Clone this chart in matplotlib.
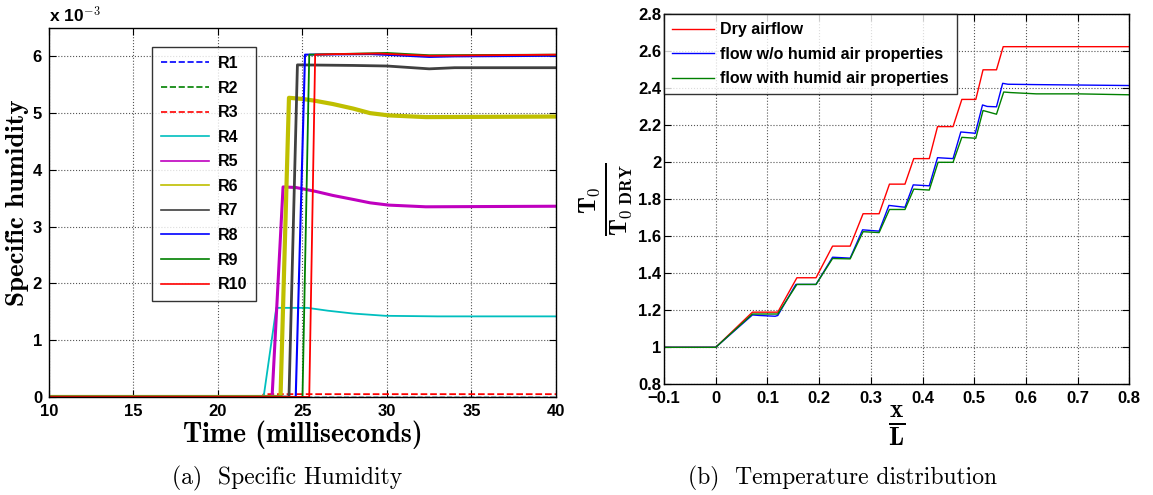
import matplotlib
matplotlib.use("Agg")
import matplotlib.pyplot as plt

plt.rcParams['font.family'] = ['Liberation Sans', 'DejaVu Sans']
plt.rcParams['font.weight'] = 'bold'
plt.rcParams['mathtext.fontset'] = 'cm'

# ---- (a) specific humidity, values in units of 1e-3 ----
t_r1 = [10, 22.6, 40]
q_r1 = [0, 0.0, 0.0]
t_r2 = [10, 22.6, 40]
q_r2 = [0, 0.0, 0.0]
t_r3 = [10, 22.6, 22.7, 40]
q_r3 = [0, 0, 0.05, 0.05]
t_r4 = [10, 22.7, 23.45, 25.3, 26.5, 28.0, 29.9, 33.0, 40]
q_r4 = [0, 0, 1.57, 1.57, 1.52, 1.47, 1.43, 1.42, 1.42]
t_r5 = [10, 23.2, 23.85, 24.6, 25.8, 26.8, 28.0, 29.0, 30.1, 32.3, 40]
q_r5 = [0, 0, 3.70, 3.69, 3.62, 3.55, 3.48, 3.42, 3.38, 3.35, 3.36]
t_r6 = [10, 23.7, 24.2, 25.0, 25.7, 26.8, 28.0, 29.0, 30.1, 32.3, 40]
q_r6 = [0, 0, 5.27, 5.25, 5.22, 5.16, 5.08, 5.00, 4.96, 4.93, 4.94]
t_r7 = [10, 24.2, 24.7, 28.0, 30.0, 32.5, 34.0, 40]
q_r7 = [0, 0, 5.85, 5.84, 5.83, 5.78, 5.80, 5.80]
t_r8 = [10, 24.6, 25.15, 29.0, 30.5, 32.5, 34.0, 40]
q_r8 = [0, 0, 6.03, 6.04, 6.02, 5.99, 6.00, 6.01]
t_r9 = [10, 25.0, 25.4, 27.0, 30.0, 32.5, 40]
q_r9 = [0, 0, 6.03, 6.04, 6.06, 6.02, 6.03]
t_r10 = [10, 25.4, 25.75, 27.0, 29.5, 32.5, 40]
q_r10 = [0, 0, 6.03, 6.04, 6.05, 6.01, 6.03]

# ---- (b) temperature distribution ----
x_dry = [-0.1, 0.0, 0.071, 0.12, 0.157, 0.194, 0.226, 0.26, 0.285, 0.316, 0.336,
         0.366, 0.383, 0.413, 0.429, 0.459, 0.476, 0.503, 0.517, 0.543, 0.556, 0.8]
t_dry = [1.0, 1.0, 1.19, 1.19, 1.376, 1.376, 1.547, 1.547, 1.722, 1.722, 1.882,
         1.882, 2.02, 2.02, 2.193, 2.193, 2.34, 2.34, 2.50, 2.50, 2.625, 2.625]
x_nohum = [-0.1, 0.0, 0.071, 0.085, 0.115, 0.12, 0.155, 0.194, 0.226, 0.26, 0.284, 0.316,
           0.335, 0.366, 0.382, 0.413, 0.429, 0.459, 0.474, 0.502, 0.516, 0.525, 0.543,
           0.555, 0.565, 0.62, 0.8]
t_nohum = [1.0, 1.0, 1.175, 1.172, 1.168, 1.172, 1.34, 1.34, 1.487, 1.482, 1.635, 1.628,
           1.767, 1.757, 1.878, 1.873, 2.025, 2.02, 2.164, 2.157, 2.31, 2.302, 2.30,
           2.427, 2.422, 2.42, 2.415]
x_hum = [-0.1, 0.0, 0.071, 0.12, 0.157, 0.194, 0.226, 0.26, 0.285, 0.316, 0.336,
         0.366, 0.383, 0.413, 0.43, 0.459, 0.476, 0.503, 0.517, 0.53, 0.543,
         0.557, 0.57, 0.62, 0.70, 0.8]
t_hum = [1.0, 1.0, 1.18, 1.18, 1.34, 1.34, 1.48, 1.478, 1.625, 1.62, 1.745,
         1.745, 1.855, 1.85, 2.0, 2.0, 2.135, 2.13, 2.28, 2.27, 2.26,
         2.38, 2.377, 2.37, 2.37, 2.365]

fig = plt.figure(figsize=(11.53, 4.95), dpi=100)


def matlab_box(ax):
    ax.tick_params(direction='in', top=True, right=True, length=5, width=0.8,
                   labelsize=12)
    ax.tick_params(axis='x', pad=5)
    ax.tick_params(axis='y', pad=3)
    for s in ax.spines.values():
        s.set_linewidth(1.0)
    ax.grid(True, linestyle=':', color='#555555', linewidth=0.8)
    for lab in ax.get_xticklabels() + ax.get_yticklabels():
        lab.set_fontweight('bold')


# left panel
ax1 = fig.add_axes([0.0425, 0.198, 0.4397, 0.7455])
ax1.plot(t_r1, q_r1, '--', color='b', lw=1, label='R1')
ax1.plot(t_r2, q_r2, '--', color='g', lw=1, label='R2')
ax1.plot(t_r3, q_r3, '--', color='r', lw=1.3, label='R3')
ax1.plot(t_r4, q_r4, color=(0, 0.75, 0.75), lw=1.3, label='R4')
ax1.plot(t_r5, q_r5, color=(0.75, 0, 0.75), lw=2.2, label='R5')
ax1.plot(t_r6, q_r6, color=(0.75, 0.75, 0), lw=3.0, label='R6')
ax1.plot(t_r7, q_r7, color=(0.25, 0.25, 0.25), lw=2.0, label='R7')
ax1.plot(t_r8, q_r8, color='b', lw=1.5, label='R8')
ax1.plot(t_r9, q_r9, color='g', lw=1.3, label='R9')
ax1.plot(t_r10, q_r10, color='r', lw=1.3, label='R10')
ax1.set_xlim(10, 40)
ax1.set_ylim(0, 6.5)
ax1.set_xticks([10, 15, 20, 25, 30, 35, 40])
ax1.set_yticks([0, 1, 2, 3, 4, 5, 6])
matlab_box(ax1)
ax1.tick_params(axis='y', pad=5)
ax1.set_xlabel('Time (milliseconds)', family='cmb10', fontsize=20, labelpad=1)
ax1.set_ylabel('Specific humidity', family='cmb10', fontsize=19.5)
ax1.yaxis.set_label_coords(-0.04, 0.527)
ax1.text(0, 1.006, r'x 10$^{\mathbf{-3}}$', transform=ax1.transAxes, fontsize=12.5,
         fontweight='bold', ha='left', va='bottom')
leg1 = ax1.legend(loc='upper left', bbox_to_anchor=(0.203, 0.948), borderaxespad=0,
                  fancybox=False, edgecolor='black', handlelength=3.0,
                  labelspacing=0.6, borderpad=0.55, handletextpad=0.6,
                  prop=dict(size=11.5, weight='bold'))
leg1.get_frame().set_linewidth(1.0)
for h in leg1.get_lines():
    h.set_linewidth(1.2)

# right panel
ax2 = fig.add_axes([0.5759, 0.2236, 0.4036, 0.7475])
ax2.plot(x_dry, t_dry, color='r', lw=1, label='Dry airflow')
ax2.plot(x_nohum, t_nohum, color='b', lw=1, label='flow w/o humid air properties')
ax2.plot(x_hum, t_hum, color=(0, 0.5, 0), lw=1, label='flow with humid air properties')
ax2.set_xlim(-0.1, 0.8)
ax2.set_ylim(0.8, 2.8)
ax2.set_xticks([-0.1, 0, 0.1, 0.2, 0.3, 0.4, 0.5, 0.6, 0.7, 0.8])
ax2.set_xticklabels(['\u22120.1', '0', '0.1', '0.2', '0.3', '0.4', '0.5', '0.6', '0.7', '0.8'])
ax2.set_yticks([0.8, 1, 1.2, 1.4, 1.6, 1.8, 2, 2.2, 2.4, 2.6, 2.8])
ax2.set_yticklabels(['0.8', '1', '1.2', '1.4', '1.6', '1.8', '2', '2.2', '2.4', '2.6', '2.8'])
matlab_box(ax2)
ax2.tick_params(axis='y', pad=2)
ax2.set_xlabel(r'$\mathbf{\frac{x}{L}}$', fontsize=26, labelpad=-2)
ax2.set_ylabel(r'$\frac{\mathbf{T_0}}{\mathbf{T_{0\ DRY}}}$', fontsize=25, labelpad=2)
leg2 = ax2.legend(loc='upper left', bbox_to_anchor=(0, 1), borderaxespad=0,
                  fancybox=False, edgecolor='black', handlelength=2.6,
                  labelspacing=0.6, borderpad=0.5, handletextpad=0.4,
                  prop=dict(size=11.5, weight='bold'))
leg2.get_frame().set_linewidth(1.0)

# captions
fig.text(287 / 1153, 1 - 478 / 495, '(a)  Specific Humidity', family='cmr10',
         fontweight='normal', fontsize=17, ha='center', va='center')
fig.text(843 / 1153, 1 - 478 / 495, '(b)  Temperature distribution', family='cmr10',
         fontweight='normal', fontsize=17, ha='center', va='center')

fig.savefig('out.png', dpi=100)
